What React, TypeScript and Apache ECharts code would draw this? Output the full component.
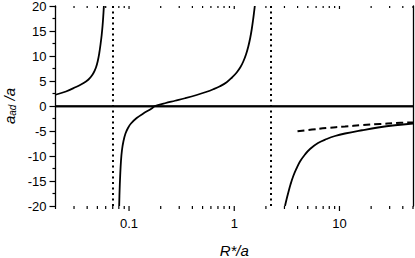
import React, { useEffect, useRef } from "react";
import * as echarts from "echarts";

// Branch left of the first pole
const branch1X = [0.02, 0.02516, 0.03131, 0.03493, 0.03897, 0.04117, 0.04347, 0.04593, 0.0485, 0.05045, 0.05215, 0.05364, 0.05495, 0.05605, 0.05691, 0.05767];
const branch1Y = [2.25, 2.9, 3.8, 4.3, 4.9, 5.3, 5.85, 6.6, 7.7, 9.0, 10.6, 12.4, 14.2, 16.1, 18.0, 20];

// Branch between the two poles
const branch2X = [
  0.08059, 0.0813, 0.08236, 0.08382, 0.0857, 0.08856, 0.09254, 0.09772, 0.1043, 0.1182,
  0.1366, 0.1642, 0.1765, 0.2196, 0.2734, 0.3402, 0.4395, 0.5387, 0.6322, 0.732,
  0.8475, 0.9519, 1.0551, 1.1465, 1.219, 1.293, 1.36, 1.4178, 1.4651, 1.5073, 1.5477, 1.5682,
];
const branch2Y = [
  -20, -17, -14, -11, -8.8, -7, -5.5, -4.4, -3.5, -2.4,
  -1.5, -0.5, 0, 0.55, 1.05, 1.55, 2.2, 2.8, 3.35, 3.95,
  4.75, 5.7, 6.7, 7.8, 8.9, 10.3, 11.9, 13.6, 15.3, 17.1, 19, 20,
];

// Branch right of the second pole
const branch3X = [3.037, 3.139, 3.265, 3.425, 3.641, 3.906, 4.217, 4.704, 5.25, 6.254, 7.564, 9.073, 11.29, 16.39, 23.26, 33.73, 50];
const branch3Y = [-20, -18.7, -17.3, -15.7, -14, -12.5, -11.1, -9.7, -8.6, -7.4, -6.6, -6, -5.5, -4.85, -4.3, -3.85, -3.5];

// Dashed asymptotic curve
const dashedX = [3.993, 5.484, 7.564, 11.29, 16.39, 24.3, 33.73, 50];
const dashedY = [-5.07, -4.72, -4.4, -4.1, -3.82, -3.6, -3.42, -3.28];

// Pole positions (dotted vertical lines)
const poles = [0.07, 2.2];

// X axis ticks
const majorTicks = [0.1, 1, 10];
const minorTicks = [
  0.02, 0.03, 0.04, 0.05, 0.06, 0.07, 0.08, 0.09,
  0.2, 0.3, 0.4, 0.5, 0.6, 0.7, 0.8, 0.9,
  2, 3, 4, 5, 6, 7, 8, 9,
  20, 30, 40, 50,
];

const FONT = "'Liberation Sans', Arial, Helvetica, sans-serif";

const zip = (xs: number[], ys: number[]) => xs.map((x, i) => [x, ys[i]]);

export default function App() {
  const ref = useRef<HTMLDivElement>(null);
  useEffect(() => {
    if (!ref.current) return;
    const chart = echarts.init(ref.current, undefined, { renderer: "svg" });
    const solid = { color: "#000", width: 1.8 };
    const tickData = [
      ...majorTicks.map((v) => [v, 1]),
      ...minorTicks.map((v) => [v, 0]),
    ];
    chart.setOption({
      animation: false,
      backgroundColor: "#fff",
      grid: { left: 55.5, right: 2, top: 6, bottom: 52, containLabel: false, outerBoundsMode: "none" },
      xAxis: [
        {
          type: "log",
          logBase: 10,
          min: 0.02,
          max: 50,
          position: "bottom",
          axisLine: { show: true, lineStyle: { color: "#000", width: 1.3 } },
          axisTick: { show: false },
          minorTick: { show: false },
          splitLine: { show: false },
          axisLabel: {
            color: "#000",
            fontSize: 13,
            fontFamily: FONT,
            margin: 11,
            showMinLabel: false,
            showMaxLabel: false,
            formatter: (v: number) => String(+Number(v).toPrecision(3)),
          },
          name: "R*/a",
          nameLocation: "middle",
          nameGap: 36,
          nameMoveOverlap: false,
          nameTextStyle: { fontSize: 15, fontStyle: "italic", fontFamily: FONT, color: "#000", lineHeight: 16 },
        },
        {
          type: "log",
          logBase: 10,
          min: 0.02,
          max: 50,
          position: "top",
          axisLine: { show: true, lineStyle: { color: "#000", width: 1.3 } },
          axisTick: { show: false },
          axisLabel: { show: false },
          splitLine: { show: false },
        },
      ],
      yAxis: [
        {
          type: "value",
          min: -20,
          max: 20,
          interval: 5,
          position: "left",
          axisLine: { show: true, onZero: false, lineStyle: { color: "#000", width: 1.3 } },
          axisTick: { show: true, length: 6, lineStyle: { color: "#000", width: 1.2 } },
          minorTick: { show: true, splitNumber: 2, length: 3, lineStyle: { color: "#000", width: 1.2 } },
          splitLine: { show: false },
          axisLabel: { color: "#000", fontSize: 13, fontFamily: FONT, margin: 9 },
          name: "{m|a}{s|ad}{m| /a}",
          nameLocation: "middle",
          nameRotate: 90,
          nameGap: 38,
          nameMoveOverlap: false,
          nameTextStyle: {
            rich: {
              m: { fontSize: 15, fontStyle: "italic", fontFamily: FONT, color: "#000", verticalAlign: "top", lineHeight: 16 },
              s: { fontSize: 10, fontStyle: "italic", fontFamily: FONT, color: "#000", verticalAlign: "bottom", lineHeight: 12, padding: [6, 0, 0, 0] },
            },
          },
        },
        {
          type: "value",
          min: -20,
          max: 20,
          interval: 5,
          position: "right",
          axisLine: { show: true, onZero: false, lineStyle: { color: "#000", width: 1.3 } },
          axisTick: { show: false },
          axisLabel: { show: false },
          splitLine: { show: false },
        },
      ],
      series: [
        {
          type: "line",
          data: zip(branch1X, branch1Y),
          showSymbol: false,
          smooth: 0.4,
          lineStyle: solid,
          z: 3,
          markLine: {
            silent: true,
            symbol: "none",
            label: { show: false },
            data: [
              ...poles.map((p) => ({ xAxis: p, lineStyle: { type: [2, 3.5], width: 2, color: "#000" } })),
              { yAxis: 0, lineStyle: { type: "solid", width: 1.5, color: "#000" } },
            ],
          },
        },
        {
          type: "line",
          data: zip(branch2X, branch2Y),
          showSymbol: false,
          smooth: 0.4,
          lineStyle: solid,
          z: 3,
        },
        {
          type: "line",
          data: zip(branch3X, branch3Y),
          showSymbol: false,
          smooth: 0.4,
          lineStyle: solid,
          z: 3,
        },
        {
          type: "line",
          data: zip(dashedX, dashedY),
          showSymbol: false,
          smooth: 0.4,
          lineStyle: { color: "#000", width: 2, type: [7, 4] },
          z: 3,
        },
        {
          type: "custom",
          silent: true,
          clip: false,
          data: tickData,
          encode: { x: 0, y: 1 },
          renderItem: (params: any, api: any) => {
            const v = api.value(0);
            const major = api.value(1) === 1;
            const b = api.coord([v, -20]);
            const t = api.coord([v, 20]);
            const style = { stroke: "#000", lineWidth: 1.2 };
            return {
              type: "group",
              children: [
                { type: "line", shape: { x1: b[0], y1: b[1], x2: b[0], y2: b[1] + (major ? 5 : 3) }, style },
                { type: "line", shape: { x1: t[0], y1: t[1], x2: t[0], y2: t[1] + (major ? 3 : 2) }, style },
              ],
            };
          },
        },
      ],
    });
    return () => chart.dispose();
  }, []);
  return (
    <div
      ref={ref}
      style={{ position: "fixed", left: 0, top: 0, width: 415, height: 258, background: "#fff" }}
    />
  );
}
